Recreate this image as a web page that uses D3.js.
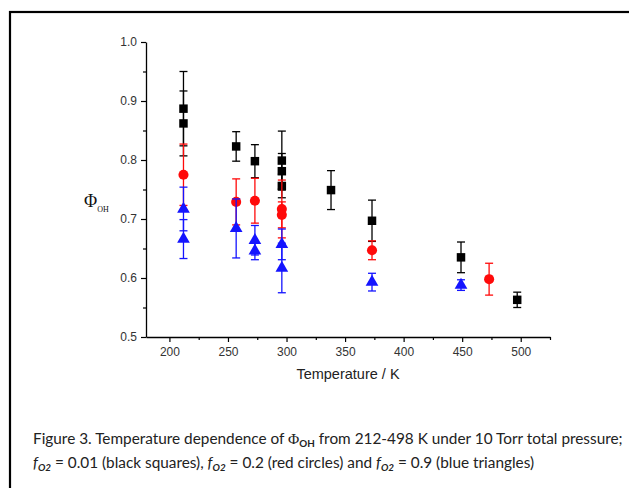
<!DOCTYPE html>
<html>
<head>
<meta charset="utf-8">
<script src="https://cdn.jsdelivr.net/npm/d3@7"></script>
<style>
  html, body { margin: 0; padding: 0; background: #fff; }
  svg { display: block; }
</style>
</head>
<body>
<svg id="fig" width="629" height="488"></svg>
<script>
// OH yield vs temperature, three O2 fractions
const xTicks = [200, 250, 300, 350, 400, 450, 500];
const yTicks = [0.5, 0.6, 0.7, 0.8, 0.9, 1.0];

const blackT   = [212, 212, 257, 273, 296, 296, 296, 338, 373, 449, 497];
const blackPhi = [0.887, 0.862, 0.823, 0.798, 0.799, 0.781, 0.756, 0.749, 0.697, 0.635, 0.563];
const blackErr = [0.063, 0.055, 0.025, 0.028, 0.050, 0.030, 0.020, 0.033, 0.035, 0.026, 0.013];

const redT   = [212, 257, 273, 296, 296, 373, 473];
const redPhi = [0.775, 0.729, 0.731, 0.717, 0.707, 0.647, 0.598];
const redErr = [0.052, 0.039, 0.038, 0.049, 0.022, 0.016, 0.027];

const blueT   = [212, 212, 257, 273, 273, 296, 296, 373, 449];
const bluePhi = [0.717, 0.666, 0.684, 0.664, 0.646, 0.657, 0.617, 0.593, 0.588];
const blueErr = [0.037, 0.033, 0.050, 0.025, 0.015, 0.026, 0.042, 0.015, 0.009];

const svg = d3.select("#fig");

// frame
svg.append("rect")
  .attr("x", 10).attr("y", 12).attr("width", 640).attr("height", 500)
  .attr("fill", "#fff").attr("stroke", "#000").attr("stroke-width", 2.2);

const x = d3.scaleLinear().domain([180, 525]).range([146, 550]);
const y = d3.scaleLinear().domain([0.5, 1.0]).range([337, 42]);

const axisFont = "Liberation Sans";

// x axis
svg.append("g").attr("transform", "translate(0,337)")
  .call(d3.axisBottom(x).tickValues(xTicks).tickSize(5).tickPadding(5).tickSizeOuter(0));
svg.append("g").attr("transform", "translate(0,337)")
  .call(d3.axisBottom(x).tickValues([225, 275, 325, 375, 425, 475, 525]).tickSize(3).tickFormat("").tickSizeOuter(0))
  .select(".domain").remove();

// y axis
svg.append("g").attr("transform", "translate(146,0)")
  .call(d3.axisLeft(y).tickValues(yTicks).tickSize(5).tickPadding(4).tickFormat(d3.format(".1f")).tickSizeOuter(0));
svg.append("g").attr("transform", "translate(146,0)")
  .call(d3.axisLeft(y).tickValues([0.55, 0.65, 0.75, 0.85, 0.95]).tickSize(3).tickFormat("").tickSizeOuter(0))
  .select(".domain").remove();

svg.selectAll(".domain").attr("stroke", "#000").attr("stroke-width", 1.3);
svg.selectAll(".tick line").attr("stroke", "#000").attr("stroke-width", 1.2);
svg.selectAll(".tick text")
  .attr("font-family", axisFont).attr("font-size", 12).attr("fill", "#333");

// axis titles
svg.append("text")
  .attr("x", 348).attr("y", 379).attr("text-anchor", "middle")
  .attr("font-family", axisFont).attr("font-size", 14.5).attr("fill", "#222")
  .text("Temperature / K");

const yl = svg.append("text")
  .attr("x", 84).attr("y", 207)
  .attr("font-family", "Liberation Serif").attr("font-size", 18).attr("fill", "#111");
yl.append("tspan").text("Φ");
yl.append("tspan").attr("dy", 5).attr("font-size", 8).text("OH");

// series
function drawSeries(T, phi, err, color, shape) {
  const g = svg.append("g");
  const rows = T.map((t, i) => ({ t, v: phi[i], e: err[i] }));
  const cap = 4;
  rows.forEach(d => {
    const cx = x(d.t), y1 = y(d.v + d.e), y0 = y(d.v - d.e);
    g.append("line").attr("x1", cx).attr("x2", cx).attr("y1", y1).attr("y2", y0)
      .attr("stroke", color).attr("stroke-width", 1.3);
    [y1, y0].forEach(yy => g.append("line")
      .attr("x1", cx - cap).attr("x2", cx + cap).attr("y1", yy).attr("y2", yy)
      .attr("stroke", color).attr("stroke-width", 1.3));
  });
  const sym = d3.symbol().type(shape).size(shape === d3.symbolTriangle ? 70 : (shape === d3.symbolSquare ? 72 : 80));
  g.selectAll("path.m").data(rows).join("path")
    .attr("class", "m")
    .attr("transform", d => `translate(${x(d.t)},${y(d.v)})`)
    .attr("d", sym)
    .attr("fill", color);
}
drawSeries(blackT, blackPhi, blackErr, "#000", d3.symbolSquare);
drawSeries(redT, redPhi, redErr, "#ff0a0a", d3.symbolCircle);
drawSeries(blueT, bluePhi, blueErr, "#1414ff", d3.symbolTriangle);

// caption
const capFont = "Lato";
const c1 = svg.append("text").attr("x", 33).attr("y", 444)
  .attr("font-family", capFont).attr("font-size", 14).attr("fill", "#222");
c1.append("tspan").text("Figure 3. Temperature dependence of ");
c1.append("tspan").attr("font-family", "Liberation Serif").text("Φ");
c1.append("tspan").attr("dy", 3).attr("font-size", 9).attr("font-weight", "bold").text("OH");
c1.append("tspan").attr("dy", -3).text(" from 212-498 K under 10 Torr total pressure;");

const w = c1.node().getComputedTextLength();
const fs = 14 * 590 / w;
c1.attr("font-size", fs);
c1.selectAll("tspan").filter(function () { return this.getAttribute("font-size") === "9"; })
  .attr("font-size", fs * 0.64);

const c2 = svg.append("text").attr("x", 33).attr("y", 468)
  .attr("font-family", capFont).attr("font-size", fs).attr("fill", "#222");
function fO2(t) {
  t.append("tspan").attr("font-style", "italic").text("f");
  t.append("tspan").attr("dy", 3).attr("font-size", fs * 0.64).attr("font-style", "italic").attr("font-weight", "bold").text("O2");
}
fO2(c2);
c2.append("tspan").attr("dy", -3).text(" = 0.01 (black squares), ");
fO2(c2);
c2.append("tspan").attr("dy", -3).text(" = 0.2 (red circles) and ");
fO2(c2);
c2.append("tspan").attr("dy", -3).text(" = 0.9 (blue triangles)");
</script>
</body>
</html>
